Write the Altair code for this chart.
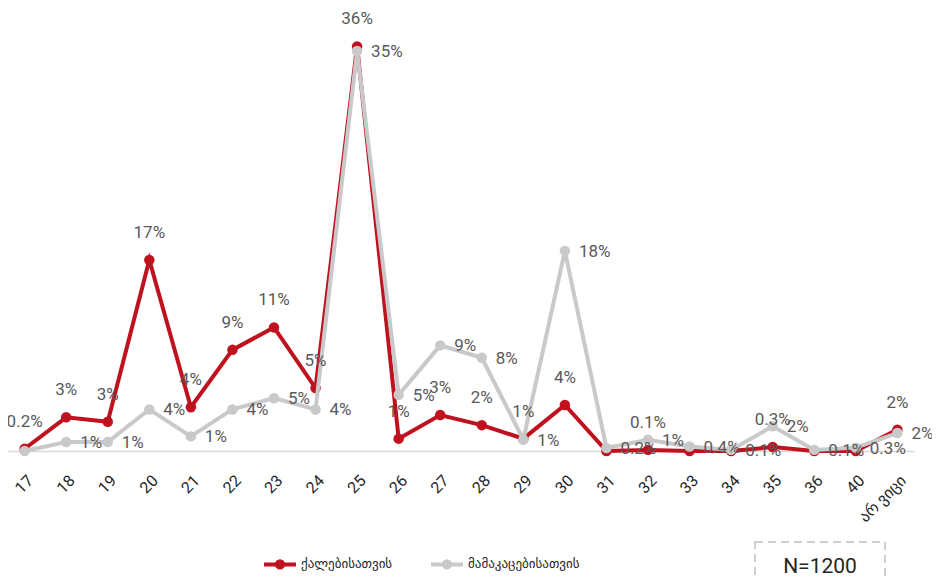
import altair as alt
import pandas as pd

ages = ["17", "18", "19", "20", "21", "22", "23", "24", "25", "26", "27",
        "28", "29", "30", "31", "32", "33", "34", "35", "36", "40", "არ ვიცი"]
women = [0.2, 3.0, 2.6, 17.0, 3.9, 9.0, 11.0, 5.6, 36.0, 1.1, 3.2,
         2.3, 1.1, 4.1, 0.0, 0.1, 0.0, 0.0, 0.35, 0.0, 0.0, 1.9]
men = [0.0, 0.8, 0.8, 3.7, 1.3, 3.7, 4.7, 3.7, 35.6, 5.0, 9.4,
       8.3, 1.0, 17.8, 0.27, 1.0, 0.4, 0.1, 2.2, 0.1, 0.3, 1.6]
women_labels = ["0.2%", "3%", "3%", "17%", "4%", "9%", "11%", "5%", "36%", "1%", "3%",
                "2%", "1%", "4%", "", "0.1%", "", "", "0.3%", "", "", "2%"]
men_labels = ["", "1%", "1%", "4%", "1%", "4%", "5%", "4%", "35%", "5%", "9%",
              "8%", "1%", "18%", "0.2%", "1%", "0.4%", "0.1%", "2%", "0.1%", "0.3%", "2%"]
series_names = ["ქალებისათვის", "მამაკაცებისათვის"]
sample_note = ["N=1200"]

RED = "#C0111F"
GREY = "#C9C9CB"
LABEL_GREY = "#595959"

rows = []
for a, v, l in zip(ages, women, women_labels):
    rows.append({"age": a, "series": series_names[0], "value": v, "label": l})
for a, v, l in zip(ages, men, men_labels):
    rows.append({"age": a, "series": series_names[1], "value": v, "label": l})
df = pd.DataFrame(rows)

legend_path = ("M-1,0L1,0M0.2,0A0.2,0.2,0,1,1,-0.2,0A0.2,0.2,0,1,1,0.2,0Z")

x = alt.X("age:N", sort=ages,
          scale=alt.Scale(type="point", padding=0.4),
          axis=alt.Axis(title=None, labelAngle=-45, ticks=False, grid=False,
                        domainColor="#D9D9D9", domainWidth=1.5,
                        labelFontSize=16, labelColor="#262626",
                        labelFont="Roboto, DejaVu Sans", labelPadding=21,
                        labelOverlap=False))
y = alt.Y("value:Q", scale=alt.Scale(domain=[0, 38], nice=False, zero=True), axis=None)
color = alt.Color("series:N",
                  scale=alt.Scale(domain=series_names, range=[RED, GREY]),
                  legend=alt.Legend(title=None, orient="none", legendX=254, legendY=522,
                                    direction="horizontal", symbolType=legend_path,
                                    symbolSize=1024, symbolStrokeWidth=4,
                                    labelFontSize=13, labelColor="#262626",
                                    labelFont="DejaVu Sans", columnPadding=30,
                                    labelOffset=3, padding=0))

base = alt.Chart(df)
women_base = base.transform_filter(alt.datum.series == series_names[0])
men_base = base.transform_filter(alt.datum.series == series_names[1])

red_line = women_base.mark_line(strokeWidth=4).encode(x=x, y=y, color=color)
red_pts = women_base.mark_circle(size=110, opacity=1).encode(x=x, y=y, color=color)
grey_line = men_base.mark_line(strokeWidth=4).encode(x=x, y=y, color=color)
grey_pts = men_base.mark_circle(size=110, opacity=1).encode(x=x, y=y, color=color)

red_text = women_base.mark_text(dy=-27, fontSize=17, font="Roboto", color=LABEL_GREY,
                                align="center", baseline="middle").encode(
    x=x, y=y, text="label:N")
grey_text = men_base.mark_text(dx=14, dy=1, fontSize=17, font="Roboto", color=LABEL_GREY,
                               align="left", baseline="middle").encode(
    x=x, y=y, text="label:N")

note_df = pd.DataFrame({"note": sample_note})
note_box = alt.Chart(note_df).mark_rect(fill=None, stroke="#BFBFBF", strokeWidth=1.5,
                                        strokeDash=[8, 5]).encode(
    x=alt.value(747), x2=alt.value(877), y=alt.value(518), y2=alt.value(580))
note_text = alt.Chart(note_df).mark_text(fontSize=21, font="Roboto", color="#262626",
                                         align="center", baseline="middle").encode(
    x=alt.value(812), y=alt.value(543), text="note:N")

chart = alt.layer(red_line, red_pts, grey_line, grey_pts, red_text, grey_text,
                  note_box, note_text).properties(
    width=906, height=427,
    padding={"left": 0, "top": 16, "right": 18, "bottom": 127},
    autosize=alt.AutoSizeParams(type="none"),
    background="white",
).configure_view(stroke=None)

chart.save("out.html", embed_options={"renderer": "svg", "actions": False})
